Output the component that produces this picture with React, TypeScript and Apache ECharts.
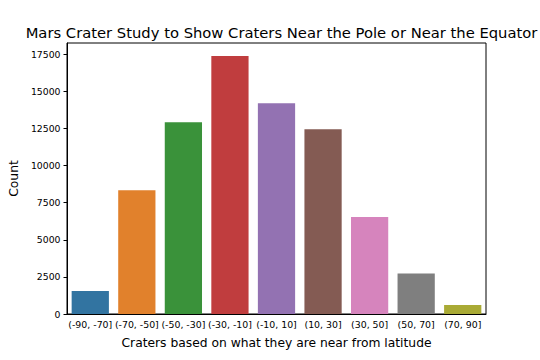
import React, { useEffect, useRef } from "react";
import * as echarts from "echarts";

const categories = ["(-90, -70]", "(-70, -50]", "(-50, -30]", "(-30, -10]", "(-10, 10]", "(10, 30]", "(30, 50]", "(50, 70]", "(70, 90]"];
const counts = [1550, 8340, 12920, 17370, 14200, 12440, 6540, 2730, 600];
const barColors = ["#3274a1", "#e1812c", "#3a923a", "#c03d3e", "#9372b2", "#845b53", "#d684bd", "#7f7f7f", "#a9aa35"];
const yTicks = [0, 2500, 5000, 7500, 10000, 12500, 15000, 17500];

const FONT = "DejaVu Sans";

export default function App() {
  const ref = useRef<HTMLDivElement>(null);
  useEffect(() => {
    if (!ref.current) return;
    const chart = echarts.init(ref.current, null, { renderer: "svg" });
    chart.setOption({
      animation: false,
      backgroundColor: "#ffffff",
      textStyle: { fontFamily: FONT },
      title: {
        text: "Mars Crater Study to Show Craters Near the Pole or Near the Equator",
        left: 276.5,
        top: 20,
        textAlign: "center",
        textStyle: { fontFamily: FONT, fontSize: 14.75, fontWeight: "normal", color: "#000" },
      },
      grid: {
        left: 67,
        right: 54,
        top: 43,
        bottom: 46,
        show: true,
        borderColor: "#000",
        borderWidth: 1,
        backgroundColor: "transparent",
      },
      xAxis: {
        type: "category",
        data: categories,
        name: "Craters based on what they are near from latitude",
        nameLocation: "middle",
        nameGap: 23,
        nameTextStyle: { fontFamily: FONT, fontSize: 12.3, color: "#000" },
        axisLine: { lineStyle: { color: "#000", width: 1 } },
        axisTick: { alignWithLabel: true, length: 3.5, lineStyle: { color: "#000" } },
        axisLabel: { fontFamily: FONT, fontSize: 9.4, color: "#000", margin: 6, interval: 0 },
      },
      yAxis: {
        type: "value",
        min: 0,
        max: 18250,
        interval: 2500,
        name: "Count",
        nameLocation: "middle",
        nameGap: 41,
        nameTextStyle: { fontFamily: FONT, fontSize: 12.3, color: "#000" },
        splitLine: { show: false },
        axisLine: { show: true, lineStyle: { color: "#000", width: 1 } },
        axisTick: { show: true, length: 3.5, lineStyle: { color: "#000" }, customValues: yTicks },
        axisLabel: {
          fontFamily: FONT,
          fontSize: 9.3,
          color: "#000",
          margin: 6.5,
          customValues: yTicks,
          formatter: (v: number) => String(v),
        },
      },
      series: [
        {
          type: "bar",
          data: counts.map((v, i) => ({ value: v, itemStyle: { color: barColors[i] } })),
          barCategoryGap: "20%",
        },
      ],
    });
    return () => chart.dispose();
  }, []);
  return <div ref={ref} style={{ width: 540, height: 360, position: "absolute", left: 0, top: 0 }} />;
}
